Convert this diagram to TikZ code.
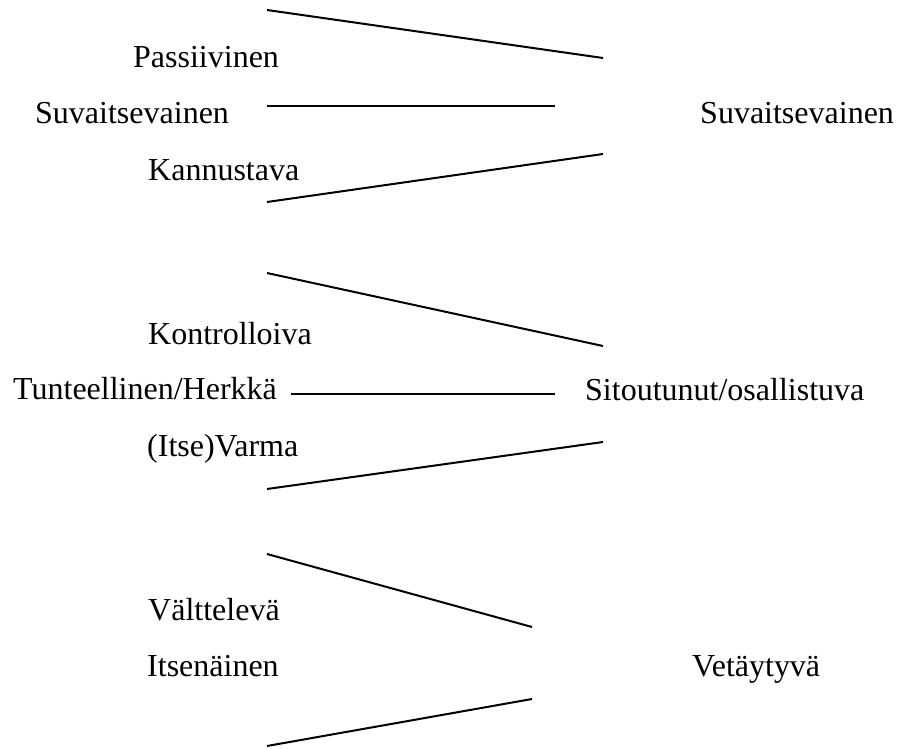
\documentclass[tikz,border=0pt]{standalone}
\usepackage{fontspec}
\setmainfont{Liberation Serif}
\usepackage{tikz}
\usetikzlibrary{positioning}

\begin{document}
\begin{tikzpicture}[
  x=1pt, y=-1pt,
  every node/.style = {font=\fontsize{32}{38}\selectfont},
  lbl/.style  = {anchor=base west, inner sep=0pt},
  lnk/.style  = {line width=2pt, line cap=butt}
]
\useasboundingbox (0,0) rectangle (905,749);

%% ── GROUP 1 (Suvaitsevainen) ────────────────────────────────────
\node[lbl] at (133, 68)  (passiv) {Passiivinen};
\node[lbl] at (35, 124)  (suvl)   {Suvaitsevainen};
\node[lbl] at (148, 180) (kannus) {Kannustava};
\node[lbl] at (700, 124) (suvr)   {Suvaitsevainen};

\coordinate (a1) at (267, 10);   \coordinate (b1) at (603, 58);
\coordinate (a2) at (267, 106);  \coordinate (b2) at (555, 106);
\coordinate (a3) at (267, 202);  \coordinate (b3) at (603, 154);

%% ── GROUP 2 (Sitoutunut) ────────────────────────────────────────
\node[lbl] at (148, 344) (kontr)  {Kontrolloiva};
\node[lbl] at (13, 399)  (tunt)   {Tunteellinen/Herkkä};
\node[lbl] at (147, 456) (varma)  {(Itse)Varma};
\node[lbl] at (585, 400) (sitout) {Sitoutunut/osallistuva};

\coordinate (c1) at (267, 273);  \coordinate (d1) at (603, 346);
\coordinate (c2) at (291, 394);  \coordinate (d2) at (555, 394);
\coordinate (c3) at (267, 489);  \coordinate (d3) at (603, 442);

%% ── GROUP 3 (Vetäytyvä) ─────────────────────────────────────────
\node[lbl] at (148, 620) (valtt) {Välttelevä};
\node[lbl] at (147, 676) (itsen) {Itsenäinen};
\node[lbl] at (692, 676) (vetay) {Vetäytyvä};

\coordinate (e1) at (267, 554);  \coordinate (f1) at (532, 627);
\coordinate (e3) at (267, 746);  \coordinate (f3) at (532, 699);

%% ── LINES ───────────────────────────────────────────────────────
\draw[lnk] (a1) -- (b1);
\draw[lnk] (a2) -- (b2);
\draw[lnk] (a3) -- (b3);
\draw[lnk] (c1) -- (d1);
\draw[lnk] (c2) -- (d2);
\draw[lnk] (c3) -- (d3);
\draw[lnk] (e1) -- (f1);
\draw[lnk] (e3) -- (f3);

\end{tikzpicture}
\end{document}
